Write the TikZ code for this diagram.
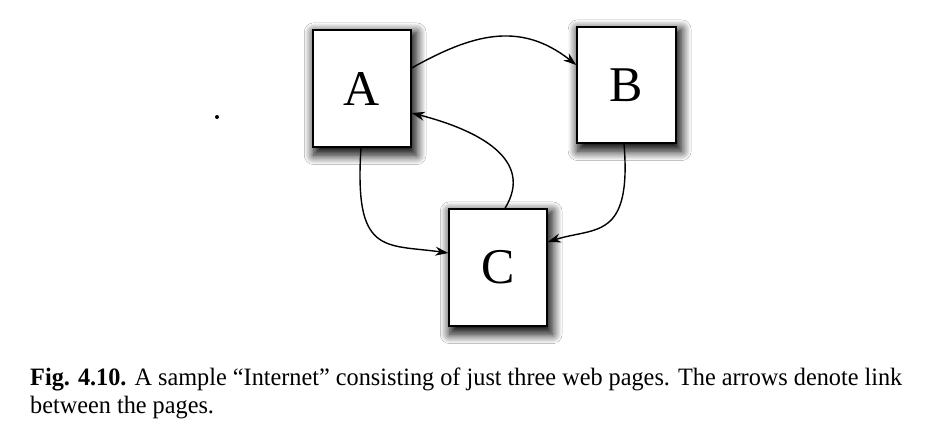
\documentclass[tikz,border=0pt]{standalone}
\usepackage{fontspec}
\setmainfont{Liberation Serif}
\newfontfamily\capfont[FakeStretch=0.97]{Liberation Serif}
\usetikzlibrary{arrows.meta,shadows.blur}
\tikzset{
  page/.style={draw=black, line width=1.4pt, fill=white, minimum width=98pt, minimum height=117pt,
    inner sep=0pt, font=\fontsize{50}{50}\selectfont,
    blur shadow={shadow xshift=3pt, shadow yshift=-5pt, shadow blur radius=9pt, shadow blur steps=14, shadow opacity=100, shadow scale=1.05}},
  link/.style={line width=1.4pt, -{Stealth[length=13pt,width=9pt]}},
  captext/.style={anchor=base west, inner sep=0pt, font=\capfont\fontsize{25}{28}\selectfont}
}
\begin{document}
\begin{tikzpicture}[x=1pt,y=-1pt]
\useasboundingbox (0,0) rectangle (926,445);
\fill[white] (0,0) rectangle (926,445);
\node[page] (A) at (362,88.5) {A};
\node[page, minimum width=99pt, minimum height=116pt] (B) at (626.5,85) {B};
\node[page] (C) at (498,267.5) {C};
\draw[link] ([yshift=20.5pt]A.east) .. controls +(59,-33) and +(-57,-45) .. ([yshift=20pt]B.west);
\draw[link] ([xshift=7pt]C.north) .. controls +(30,-49) and +(66,17) .. ([yshift=-24.5pt]A.east);
\draw[link] ([xshift=-1pt]A.south) .. controls +(-7,108) and +(-64,-9) .. ([yshift=14.5pt]C.west);
\draw[link] ([xshift=-2.5pt]B.south) .. controls +(8,97) and +(47,-15) .. ([yshift=25.5pt]C.east);
\fill (217,117) circle (2);
\node[captext] (cap1) at (30,385) {\textbf{Fig. 4.10.} A sample “Internet” consisting of just three web pages. The arrows denote link};
\node[captext] (cap2) at (30,413) {between the pages.};
\end{tikzpicture}
\end{document}
